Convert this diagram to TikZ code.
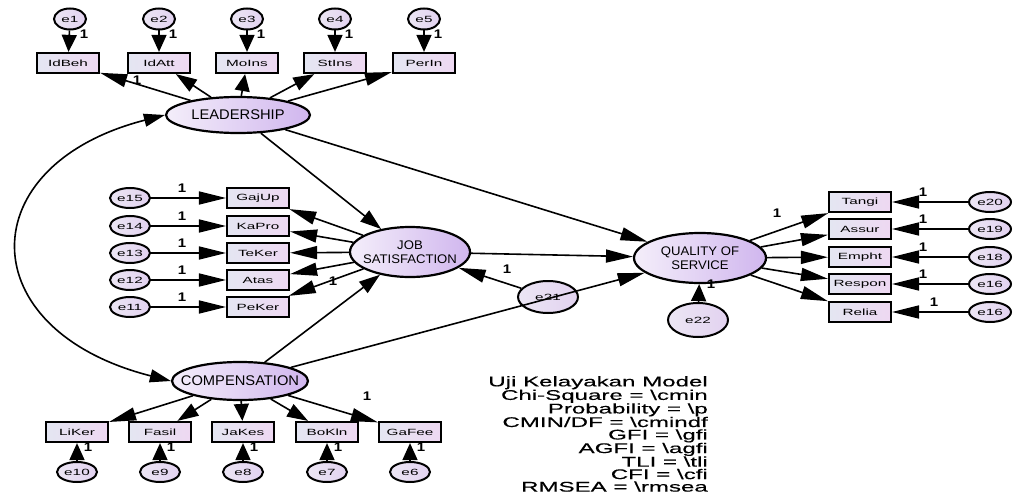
\documentclass[tikz,border=0pt]{standalone}
\usepackage{fontspec}
\setmainfont{Liberation Sans}
\newfontfamily\boxfnt[FakeStretch=1.7]{Liberation Sans}
\newfontfamily\latfnt[FakeStretch=1.05]{Liberation Sans}
\newfontfamily\onefnt[FakeStretch=1.2]{Liberation Sans}
\newfontfamily\fitfnt[FakeStretch=1.72,FakeBold=0.3]{Liberation Sans}
\usetikzlibrary{shapes.geometric,arrows.meta}
\definecolor{latL}{HTML}{F4EEFA}
\definecolor{latR}{HTML}{D0B6EE}
\definecolor{boxL}{HTML}{E4E6F2}
\definecolor{boxR}{HTML}{EED8F2}
\definecolor{errL}{HTML}{ECE6F4}
\definecolor{errR}{HTML}{E2D2F0}
\tikzset{
 obs/.style={draw, line width=2.2pt, left color=boxL, right color=boxR, minimum width=62pt, minimum height=20pt, inner sep=0pt, font=\boxfnt\fontsize{9}{10}\selectfont},
 lat/.style={draw, ellipse, line width=2.2pt, left color=latL, right color=latR, inner sep=0pt},
 latlab/.style={font=\latfnt\fontsize{13}{14}\selectfont, align=center, inner sep=0pt},
 err/.style={draw, ellipse, line width=2pt, left color=errL, right color=errR, minimum width=40pt, minimum height=20pt, inner sep=0pt, font=\boxfnt\fontsize{9}{10}\selectfont},
 errtop/.style={err, minimum width=32pt, minimum height=21pt},
 conH/.style={line width=1.6pt, -{Triangle[length=27pt,width=13pt]}},
 conD/.style={line width=1.6pt, -{Triangle[length=21pt,width=14pt]}},
 conV/.style={line width=1.6pt, -{Triangle[length=17pt,width=15pt]}},
 one/.style={font=\onefnt\bfseries\fontsize{12.5}{13}\selectfont, inner sep=0pt},
 fitl/.style={font=\fitfnt\fontsize{14}{13}\selectfont, align=right, anchor=north east, inner sep=0pt},
}
\begin{document}
\begin{tikzpicture}[x=1pt,y=-1pt]
\fill[white] (0,0) rectangle (1016,497);
\useasboundingbox (0,0) rectangle (1016,497);

% latent variables
\node[lat, minimum width=144pt, minimum height=36pt, label={[latlab,font=\latfnt\fontsize{14}{14}\selectfont]center:LEADERSHIP}] (L) at (238,115) {};
\node[lat, minimum width=120pt, minimum height=50pt, label={[latlab,font=\latfnt\fontsize{12.5}{14}\selectfont]center:JOB\\SATISFACTION}] (J) at (410,252) {};
\node[lat, minimum width=132pt, minimum height=50pt, label={[latlab,font=\latfnt\fontsize{12.5}{14}\selectfont]center:QUALITY OF\\SERVICE}] (Q) at (700,258) {};
\node[lat, minimum width=136pt, minimum height=38pt, label={[latlab,font=\latfnt\fontsize{14}{14}\selectfont]center:COMPENSATION}] (C) at (240,381) {};
\node[err, minimum width=60pt, minimum height=32pt] (e21) at (548,297) {e21};
\node[err, minimum width=60pt, minimum height=34pt] (e22) at (698,320) {e22};

% top indicators
\node[obs] (IdBeh) at (68,63) {IdBeh};
\node[obs] (IdAtt) at (159,63) {IdAtt};
\node[obs] (MoIns) at (247,63) {MoIns};
\node[obs] (StIns) at (335,63) {StIns};
\node[obs] (PerIn) at (424,63) {PerIn};
\node[errtop] (e1) at (70,19) {e1};
\node[errtop] (e2) at (159,19) {e2};
\node[errtop] (e3) at (247,19) {e3};
\node[errtop] (e4) at (335,19) {e4};
\node[errtop] (e5) at (424,19) {e5};
\foreach \e/\b in {e1/IdBeh,e2/IdAtt,e3/MoIns,e4/StIns,e5/PerIn}{\draw[conV] (\e) -- (\b);}
\draw[conH] (L) -- (IdBeh);
\draw[conD] (L) -- (IdAtt);
\draw[conV] (L) -- (MoIns);
\draw[conD] (L) -- (StIns);
\draw[conH] (L) -- (PerIn);
\node[one] (t1) at (84,34) {1};
\node[one] (t2) at (173,34) {1};
\node[one] (t3) at (261,34) {1};
\node[one] (t4) at (349,34) {1};
\node[one] (t5) at (438,34) {1};
\node[one] (tL) at (137,80) {1};

% left indicators
\node[obs] (GajUp) at (258,198) {GajUp};
\node[obs] (KaPro) at (258,226) {KaPro};
\node[obs] (TeKer) at (258,253) {TeKer};
\node[obs] (Atas) at (258,280) {Atas};
\node[obs] (PeKer) at (258,307) {PeKer};
\node[err] (e15) at (130,198) {e15};
\node[err] (e14) at (130,226) {e14};
\node[err] (e13) at (130,253) {e13};
\node[err] (e12) at (130,280) {e12};
\node[err] (e11) at (130,307) {e11};
\foreach \e/\b in {e15/GajUp,e14/KaPro,e13/TeKer,e12/Atas,e11/PeKer}{\draw[conH] (\e) -- (\b);}
\foreach \b in {GajUp,KaPro,TeKer,Atas,PeKer}{\draw[conH] (J) -- (\b);}
\node[one] (l1) at (182,188) {1};
\node[one] (l2) at (182,216) {1};
\node[one] (l3) at (182,243) {1};
\node[one] (l4) at (182,270) {1};
\node[one] (l5) at (182,297) {1};
\node[one] (lJ) at (333,281) {1};

% right indicators
\node[obs] (Tangi) at (860,202) {Tangi};
\node[obs] (Assur) at (860,229) {Assur};
\node[obs] (Empht) at (860,257) {Empht};
\node[obs] (Respon) at (860,284) {Respon};
\node[obs] (Relia) at (860,312) {Relia};
\node[err, minimum width=42pt] (e20) at (990,202) {e20};
\node[err, minimum width=42pt] (e19) at (990,229) {e19};
\node[err, minimum width=42pt] (e18) at (990,257) {e18};
\node[err, minimum width=42pt] (e16a) at (990,284) {e16};
\node[err, minimum width=42pt] (e16b) at (990,312) {e16};
\foreach \e/\b in {e20/Tangi,e19/Assur,e18/Empht,e16a/Respon,e16b/Relia}{\draw[conH] (\e) -- (\b);}
\foreach \b in {Tangi,Assur,Empht,Respon,Relia}{\draw[conH] (Q) -- (\b);}
\node[one] (r1) at (923,192) {1};
\node[one] (r2) at (923,219) {1};
\node[one] (r3) at (923,247) {1};
\node[one] (r4) at (923,274) {1};
\node[one] (r5) at (934,302) {1};
\node[one] (rQ) at (777,213) {1};

% bottom indicators
\node[obs] (LiKer) at (77,432) {LiKer};
\node[obs] (Fasil) at (160,432) {Fasil};
\node[obs] (JaKes) at (243,432) {JaKes};
\node[obs] (BoKln) at (327,432) {BoKln};
\node[obs] (GaFee) at (410,432) {GaFee};
\node[err] (e10) at (77,472) {e10};
\node[err] (e9) at (160,472) {e9};
\node[err] (e8) at (243,472) {e8};
\node[err] (e7) at (327,472) {e7};
\node[err] (e6) at (410,472) {e6};
\foreach \e/\b in {e10/LiKer,e9/Fasil,e8/JaKes,e7/BoKln,e6/GaFee}{\draw[conV] (\e) -- (\b);}
\draw[conH] (C) -- (LiKer);
\draw[conD] (C) -- (Fasil);
\draw[conV] (C) -- (JaKes);
\draw[conD] (C) -- (BoKln);
\draw[conH] (C) -- (GaFee);
\node[one] (b1) at (88,447) {1};
\node[one] (b2) at (171,447) {1};
\node[one] (b3) at (254,447) {1};
\node[one] (b4) at (338,447) {1};
\node[one] (b5) at (421,447) {1};
\node[one] (bC) at (367,396) {1};

% structural paths
\draw[conD] (L) -- (J);
\draw[conH] (L) -- (Q);
\draw[conH] (J) -- (Q);
\draw[conD] (C) -- (J);
\draw[conH] (C) -- (Q);
\draw[conH] (e21) -- (J);
\draw[conV] (e22) -- (Q);
\node[one] (s21) at (507,269) {1};
\node[one] (s22) at (711,284) {1};
\draw[line width=1.6pt, {Triangle[length=21pt,width=13pt]}-{Triangle[length=21pt,width=13pt]}]
  (L.west) .. controls (-30,165) and (-30,330) .. (C.west);

% fit text
\node[fitl] (fit) at (708,376) {Uji Kelayakan Model\\[-0.5pt]
Chi-Square = \textbackslash cmin\\[-0.5pt]
Probability = \textbackslash p\hspace*{6pt}\\[-0.5pt]
CMIN/DF = \textbackslash cmindf\hspace*{6pt}\\[-0.5pt]
GFI = \textbackslash gfi\hspace*{1pt}\\[-0.5pt]
AGFI = \textbackslash agfi\hspace*{-2pt}\\[-0.5pt]
TLI = \textbackslash tli\hspace*{6pt}\\[-0.5pt]
CFI = \textbackslash cfi\hspace*{1pt}\\[-0.5pt]
RMSEA = \textbackslash rmsea};
\end{tikzpicture}
\end{document}
